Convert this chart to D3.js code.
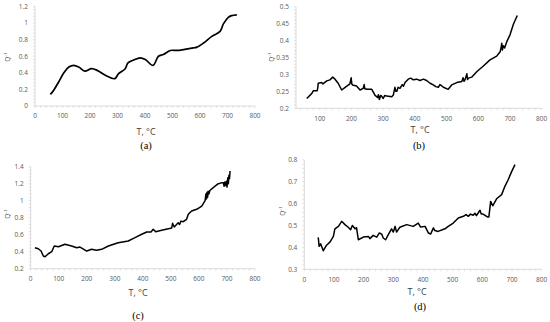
<!DOCTYPE html>
<html>
  <head>
    <meta charset="utf-8">
    <title>Q-1 vs T</title>
    <style>
      body { margin: 0; background: #fff; }
      svg { display: block; }
      .tick-label { font-family: "Open Sans", sans-serif; font-size: 6.5px; fill: #595959; }
      .axis-title { font-family: "Open Sans", sans-serif; font-size: 9px; fill: #404040; }
      .panel-label { font-family: "Liberation Serif", serif; font-size: 10.5px; fill: #000; }
    </style>
  </head>
  <body>
    <div id="chart"></div>
    <script src="https://d3js.org/d3.v7.min.js"></script>
    <script>
    var width = 550,
        height = 322

    // values: [T, Q^-1]
    var seriesA = [[56,0.14],[68,0.19],[86,0.29],[105,0.40],[123,0.47],[141,0.49],[159,0.47],[181,0.42],
      [205,0.45],[226,0.43],[256,0.37],[290,0.33],[304,0.39],[328,0.45],[338,0.52],[359,0.555],[383,0.58],
      [401,0.56],[429,0.49],[449,0.60],[467,0.62],[492,0.67],[516,0.67],[540,0.68],[576,0.70],[589,0.71],
      [613,0.76],[643,0.84],[673,0.90],[685,0.99],[703,1.07],[715,1.09],[734,1.10]]

    var seriesB = [[59,0.229],[75,0.244],[80,0.252],[92,0.252],[94,0.262],[95,0.274],[106,0.276],[110,0.272],
      [122,0.281],[132,0.284],[141,0.292],[148,0.286],[158,0.274],[169,0.254],[180,0.262],[195,0.272],
      [199,0.29],[201,0.272],[203,0.269],[216,0.266],[227,0.254],[237,0.259],[240,0.27],[242,0.258],
      [250,0.256],[264,0.256],[274,0.239],[282,0.232],[285,0.24],[288,0.226],[292,0.238],[295,0.236],
      [300,0.229],[305,0.238],[311,0.236],[327,0.234],[332,0.239],[337,0.262],[340,0.25],[343,0.25],
      [347,0.262],[353,0.259],[360,0.27],[364,0.265],[369,0.276],[379,0.286],[387,0.289],[395,0.284],
      [406,0.286],[416,0.282],[427,0.286],[437,0.282],[448,0.274],[458,0.269],[466,0.264],[474,0.262],
      [479,0.27],[485,0.266],[490,0.262],[505,0.256],[516,0.269],[532,0.276],[548,0.279],[552,0.29],
      [555,0.28],[558,0.284],[564,0.302],[566,0.285],[569,0.289],[579,0.292],[595,0.308],[616,0.325],
      [637,0.343],[658,0.354],[669,0.367],[672,0.38],[674,0.392],[676,0.372],[679,0.385],[683,0.378],
      [690,0.397],[700,0.417],[711,0.449],[723,0.474]]

    var seriesC = [[15,0.447],[27,0.435],[37,0.408],[45,0.349],[51,0.341],[63,0.376],[75,0.40],[84,0.467],
      [99,0.459],[122,0.487],[146,0.467],[164,0.447],[176,0.455],[200,0.408],[217,0.428],[235,0.416],
      [253,0.428],[277,0.467],[312,0.506],[348,0.526],[372,0.565],[396,0.605],[414,0.632],[429,0.632],
      [437,0.663],[446,0.634],[467,0.652],[491,0.671],[503,0.68],[506,0.734],[512,0.69],[526,0.741],
      [531,0.72],[536,0.76],[544,0.753],[556,0.781],[562,0.84],[574,0.879],[592,0.899],[610,0.937],
      [622,1.0],[625,1.08],[627,1.02],[629,1.1],[631,1.04],[633,1.11],[636,1.08],[639,1.12],[651,1.153],
      [669,1.2],[680,1.21],[687,1.21],[690,1.17],[692,1.22],[695,1.18],[698,1.23],[700,1.16],[703,1.27],
      [705,1.2],[707,1.3],[709,1.26],[711,1.35]]

    var seriesD = [[47,0.446],[50,0.405],[55,0.416],[64,0.385],[75,0.41],[87,0.425],[98,0.45],[103,0.485],
      [115,0.496],[126,0.519],[137,0.504],[148,0.492],[156,0.481],[162,0.50],[171,0.485],[176,0.49],
      [182,0.435],[199,0.447],[216,0.45],[221,0.44],[232,0.455],[244,0.447],[253,0.466],[261,0.46],
      [266,0.443],[274,0.435],[283,0.458],[294,0.485],[300,0.47],[306,0.496],[311,0.47],[322,0.492],
      [345,0.504],[367,0.496],[384,0.511],[392,0.493],[407,0.496],[418,0.466],[426,0.461],[435,0.489],
      [440,0.477],[451,0.473],[474,0.485],[485,0.496],[502,0.511],[519,0.534],[536,0.542],[545,0.55],
      [553,0.542],[560,0.552],[569,0.547],[575,0.556],[580,0.545],[586,0.557],[592,0.57],[596,0.553],
      [601,0.553],[617,0.539],[622,0.539],[628,0.61],[635,0.59],[648,0.622],[665,0.641],[676,0.679],
      [687,0.709],[699,0.747],[710,0.778]]

    var xTicksA = [0,100,200,300,400,500,600,700,800],
        yTicksA = [0,0.2,0.4,0.6,0.8,1,1.2],
        xTicksB = [100,200,300,400,500,600,700,800],
        yTicksB = [0.2,0.25,0.3,0.35,0.4,0.45,0.5],
        xTicksC = [0,100,200,300,400,500,600,700,800],
        yTicksC = [0.2,0.4,0.6,0.8,1,1.2,1.4],
        xTicksD = [0,100,200,300,400,500,600,700,800],
        yTicksD = [0.3,0.4,0.5,0.6,0.7,0.8]

    var svg = d3.select('#chart')
          .append('svg')
          .attr('width', width)
          .attr('height', height)

    var panels = [
      {data: seriesA, xt: xTicksA, yt: yTicksA, xd: [0,800], yd: [0,1.2], xr: [35,255], yr: [106,6.5],
       labY: 116, titleY: 132, titleX: 146, capY: 149, capX: 146, qX: 8, qY: 57, name: '(a)', smooth: true},
      {data: seriesB, xt: xTicksB, yt: yTicksB, xd: [25,800], yd: [0.2,0.5], xr: [296,541.7], yr: [108.3,6.7],
       labY: 118.7, titleY: 130, titleX: 420, capY: 149, capX: 419, qX: 272, qY: 57, name: '(b)'},
      {data: seriesC, xt: xTicksC, yt: yTicksC, xd: [0,800], yd: [0.2,1.4], xr: [30.7,255], yr: [268.7,166.7],
       labY: 278.7, titleY: 293, titleX: 138, capY: 319, capX: 138, qX: 8, qY: 214, name: '(c)'},
      {data: seriesD, xt: xTicksD, yt: yTicksD, xd: [0,800], yd: [0.3,0.8], xr: [304.3,541.7], yr: [269.3,159.8],
       labY: 280, titleY: 292, titleX: 417, capY: 310, capX: 420, qX: 283, qY: 211, name: '(d)'}
    ]

    panels.forEach(function(p) {
      var x = d3.scaleLinear().domain(p.xd).range(p.xr),
          y = d3.scaleLinear().domain(p.yd).range(p.yr)
      var g = svg.append('g')

      // axis lines
      g.append('line').attr('x1', p.xr[0]).attr('x2', p.xr[1]).attr('y1', p.yr[0]).attr('y2', p.yr[0])
        .attr('stroke', '#d0d0d0').attr('stroke-width', 0.8)
      g.append('line').attr('x1', p.xr[0]).attr('x2', p.xr[0]).attr('y1', p.yr[0]).attr('y2', p.yr[1])
        .attr('stroke', '#d0d0d0').attr('stroke-width', 0.8)

      // minor ticks (major / 5)
      var xStep = 20, yStep = (p.yt[1] - p.yt[0]) / 5
      var xm = d3.range(Math.ceil(p.xd[0] / xStep) * xStep, p.xd[1] + 0.001, xStep)
      g.selectAll('.xm').data(xm).enter().append('line')
        .attr('x1', d => x(d)).attr('x2', d => x(d)).attr('y1', p.yr[0]).attr('y2', p.yr[0] + 2)
        .attr('stroke', '#d0d0d0').attr('stroke-width', 0.6)
      var ym = d3.range(p.yd[0], p.yd[1] + yStep / 2, yStep)
      g.selectAll('.ym').data(ym).enter().append('line')
        .attr('x1', p.xr[0] - 2).attr('x2', p.xr[0]).attr('y1', d => y(d)).attr('y2', d => y(d))
        .attr('stroke', '#d0d0d0').attr('stroke-width', 0.6)

      // tick labels
      g.selectAll('.xl').data(p.xt).enter().append('text').attr('class', 'tick-label')
        .attr('x', d => x(d)).attr('y', p.labY).attr('dy', '0.35em').attr('text-anchor', 'middle')
        .text(d => d)
      g.selectAll('.yl').data(p.yt).enter().append('text').attr('class', 'tick-label')
        .attr('x', p.xr[0] - 7).attr('y', d => y(d)).attr('dy', '0.35em').attr('text-anchor', 'end')
        .text(d => String(+d.toFixed(2)))

      // titles
      g.append('text').attr('class', 'axis-title').attr('x', p.titleX).attr('y', p.titleY)
        .attr('dy', '0.35em').attr('text-anchor', 'middle').text('T, °C')
      g.append('text').attr('class', 'tick-label')
        .attr('transform', 'translate(' + p.qX + ',' + p.qY + ') rotate(-90)')
        .attr('text-anchor', 'middle').attr('dy', '0.35em').text('Q⁻¹')
      g.append('text').attr('class', 'panel-label').attr('x', p.capX).attr('y', p.capY)
        .attr('text-anchor', 'middle').text(p.name)

      var line = d3.line().x(d => x(d[0])).y(d => y(d[1]))
      if (p.smooth) line.curve(d3.curveCatmullRom)
      g.append('path').datum(p.data).attr('d', line)
        .attr('fill', 'none').attr('stroke', '#000').attr('stroke-width', p.smooth ? 1.7 : 1.5)
        .attr('stroke-linejoin', 'round')
    })
    </script>
  </body>
</html>
